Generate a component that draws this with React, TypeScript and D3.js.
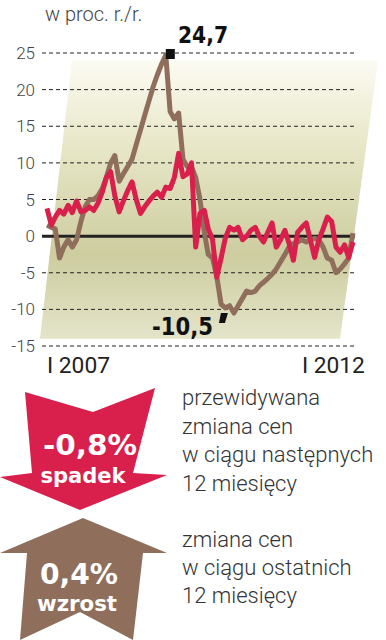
import React from "react";
import * as d3 from "d3";

// Data: year-on-year change, monthly Jan 2007 – Jan 2013
const startDate = new Date(2007, 0, 1);
const endDate = new Date(2013, 0, 1);
const months = d3.timeMonth.range(startDate, d3.timeMonth.offset(endDate, 1));

// price change over last 12 months (brown)
const lastYear = [
  1.5, 1.2, 1.0, -3.0, -1.5, -0.5, -1.5, -0.5, 2.0, 4.0, 5.0, 5.0,
  5.5, 6.5, 8.0, 10.0, 11.0, 7.5, 8.5, 9.5, 10.5, 12.5, 14.5, 16.5,
  18.5, 20.5, 22.0, 23.5, 24.7, 17.0, 16.0, 16.8, 10.5, 9.5, 9.5, 8.0,
  5.0, 0.5, -2.5, -3.0, -5.5, -9.3, -9.8, -9.5, -10.5, -9.5, -8.5, -7.5,
  -7.7, -7.5, -6.8, -6.3, -5.8, -5.2, -4.5, -3.5, -2.5, -1.5, -1.0, -0.8,
  -0.5, -0.8, -0.5, -0.3, -0.5, -1.5, -3.0, -3.3, -5.0, -4.5, -3.8, -3.0,
  0.4,
];

// expected change over next 12 months (red)
const nextYear = [
  3.8, 1.5, 2.6, 3.5, 3.0, 4.2, 3.2, 4.8, 3.3, 3.5, 4.0, 3.5,
  4.5, 6.0, 8.0, 8.8, 5.5, 3.3, 4.8, 6.2, 7.4, 5.0, 3.1, 4.0,
  4.8, 5.5, 6.0, 5.3, 6.7, 6.5, 8.0, 11.3, 8.1, 8.5, 10.0, -1.5,
  3.1, 3.5, 1.0, -0.5, -5.6, -3.0, -0.3, 1.2, 0.8, 1.2, -0.5, 0.0,
  0.8, 1.2, 0.0, -0.8, 0.5, 1.8, -1.5, -0.5, 0.8, -1.0, -3.3, 0.5,
  1.2, 1.8, -0.5, -2.9, -0.5, 1.0, 2.6, 2.0, -1.5, -2.2, -1.2, -2.9,
  -0.8,
];

const yTicks = [25, 20, 15, 10, 5, 0, -5, -10, -15];
const xLabels = ["I 2007", "I 2012"];
const xLabelDates = [new Date(2007, 0, 1), new Date(2012, 0, 1)];
const unitLabel = "w proc. r./r.";
const maxLabel = "24,7";
const minLabel = "-10,5";
const forecastValue = "-0,8%";
const forecastWord = "spadek";
const forecastText = ["przewidywana", "zmiana cen", "w ciągu następnych", "12 miesięcy"];
const pastValue = "0,4%";
const pastWord = "wzrost";
const pastText = ["zmiana cen", "w ciągu ostatnich", "12 miesięcy"];

const RED = "#d91f4b";
const BROWN = "#8f6e5c";
const lightFont = "Roboto, 'Open Sans', sans-serif";
const boldFont = "'DejaVu Sans Condensed', 'Liberation Sans Narrow', Roboto, sans-serif";

export default function App() {
  const W = 386;
  const H = 640;
  const x = d3.scaleTime().domain([startDate, endDate]).range([47, 353]);
  const y = d3.scaleLinear().domain([-15, 25]).range([346, 53]);

  const line = d3
    .line<number>()
    .x((_, i) => x(months[i]))
    .y((d) => y(d));

  const peakIdx = lastYear.indexOf(d3.max(lastYear) as number);
  const minIdx = lastYear.indexOf(d3.min(lastYear) as number);
  const px = x(months[peakIdx]);
  const mx = x(months[minIdx]);
  const my = y(lastYear[minIdx]);

  const gx0 = 42;
  const gx1 = 355;

  return (
    <svg
      width={W}
      height={H}
      style={{ position: "absolute", left: 0, top: 0, background: "#fff" }}
    >
      <defs>
        <linearGradient id="bg" x1="0" y1="0" x2="0" y2="1">
          <stop offset="0" stopColor="#fcfbf3" />
          <stop offset="0.3" stopColor="#e8e7c8" />
          <stop offset="0.7" stopColor="#cdcda0" />
          <stop offset="1" stopColor="#e4e4c9" />
        </linearGradient>
      </defs>
      <polygon
        points={`72,${y(24)} 378,${y(24)} 340,${y(-14)} 40,${y(-14)}`}
        fill="url(#bg)"
      />

      {/* grid */}
      {yTicks.map((t) => (
        <g key={t}>
          <line
            x1={gx0}
            x2={gx1}
            y1={y(t)}
            y2={y(t)}
            stroke="#222"
            strokeWidth={t === 0 ? 3 : 1}
            strokeDasharray={t === 0 ? undefined : "4,3"}
          />
          <text
            x={35}
            y={y(t) + 6}
            textAnchor="end"
            fontFamily={lightFont}
            fontWeight={300}
            fontSize={17}
            fill="#444"
          >
            {t}
          </text>
        </g>
      ))}

      <text x={45} y={21} fontFamily={lightFont} fontWeight={300} fontSize={20} fill="#444">
        {unitLabel}
      </text>

      {/* lines */}
      <path d={line(lastYear) || ""} fill="none" stroke={BROWN} strokeWidth={5} strokeLinejoin="round" />
      <path d={line(nextYear) || ""} fill="none" stroke={RED} strokeWidth={5} strokeLinejoin="round" />

      {/* max marker */}
      <rect x={px} y={y(25) - 4} width={9} height={10} fill="#111" />
      <text x={178} y={43} fontFamily={boldFont} fontWeight={700} fontSize={23} fill="#111" textLength={50} lengthAdjust="spacingAndGlyphs">
        {maxLabel}
      </text>

      {/* min marker */}
      <polygon
        points={`${mx - 13},${my} ${mx - 6},${my} ${mx - 9},${my + 10} ${mx - 15},${my + 10}`}
        fill="#111"
      />
      <text x={152} y={335} fontFamily={boldFont} fontWeight={700} fontSize={25} fill="#111" textLength={61} lengthAdjust="spacingAndGlyphs">
        {minLabel}
      </text>

      {/* x labels */}
      {xLabels.map((l, i) => (
        <text
          key={l}
          x={x(xLabelDates[i])}
          y={373}
          fontFamily={lightFont}
          fontSize={22}
          fill="#222"
          textLength={63}
          lengthAdjust="spacingAndGlyphs"
        >
          {l}
        </text>
      ))}

      {/* red down arrow */}
      <polygon
        points="25,392 93,412 155,388 133,473 167,475 80,510 0,477 32,473"
        fill={RED}
      />
      <text x={90} y={455} textAnchor="middle" fontFamily={boldFont} fontWeight={700} fontSize={29} fill="#fff" textLength={94} lengthAdjust="spacingAndGlyphs">
        {forecastValue}
      </text>
      <text x={83} y={483} textAnchor="middle" fontFamily={boldFont} fontWeight={700} fontSize={21} fill="#fff" textLength={85} lengthAdjust="spacingAndGlyphs">
        {forecastWord}
      </text>

      {/* brown up arrow */}
      <polygon
        points="83,518 167,553 143,553 133,640 80,612 20,640 27,553 0,553"
        fill={BROWN}
      />
      <text x={79} y={584} textAnchor="middle" fontFamily={boldFont} fontWeight={700} fontSize={29} fill="#fff" textLength={78} lengthAdjust="spacingAndGlyphs">
        {pastValue}
      </text>
      <text x={77} y={611} textAnchor="middle" fontFamily={boldFont} fontWeight={700} fontSize={21} fill="#fff" textLength={80} lengthAdjust="spacingAndGlyphs">
        {pastWord}
      </text>

      {/* descriptions */}
      {forecastText.map((t, i) => (
        <text key={t} x={182} y={405 + i * 28.5} fontFamily={lightFont} fontWeight={300} fontSize={22} fill="#333">
          {t}
        </text>
      ))}
      {pastText.map((t, i) => (
        <text key={t} x={182} y={547 + i * 28} fontFamily={lightFont} fontWeight={300} fontSize={22} fill="#333">
          {t}
        </text>
      ))}
    </svg>
  );
}
